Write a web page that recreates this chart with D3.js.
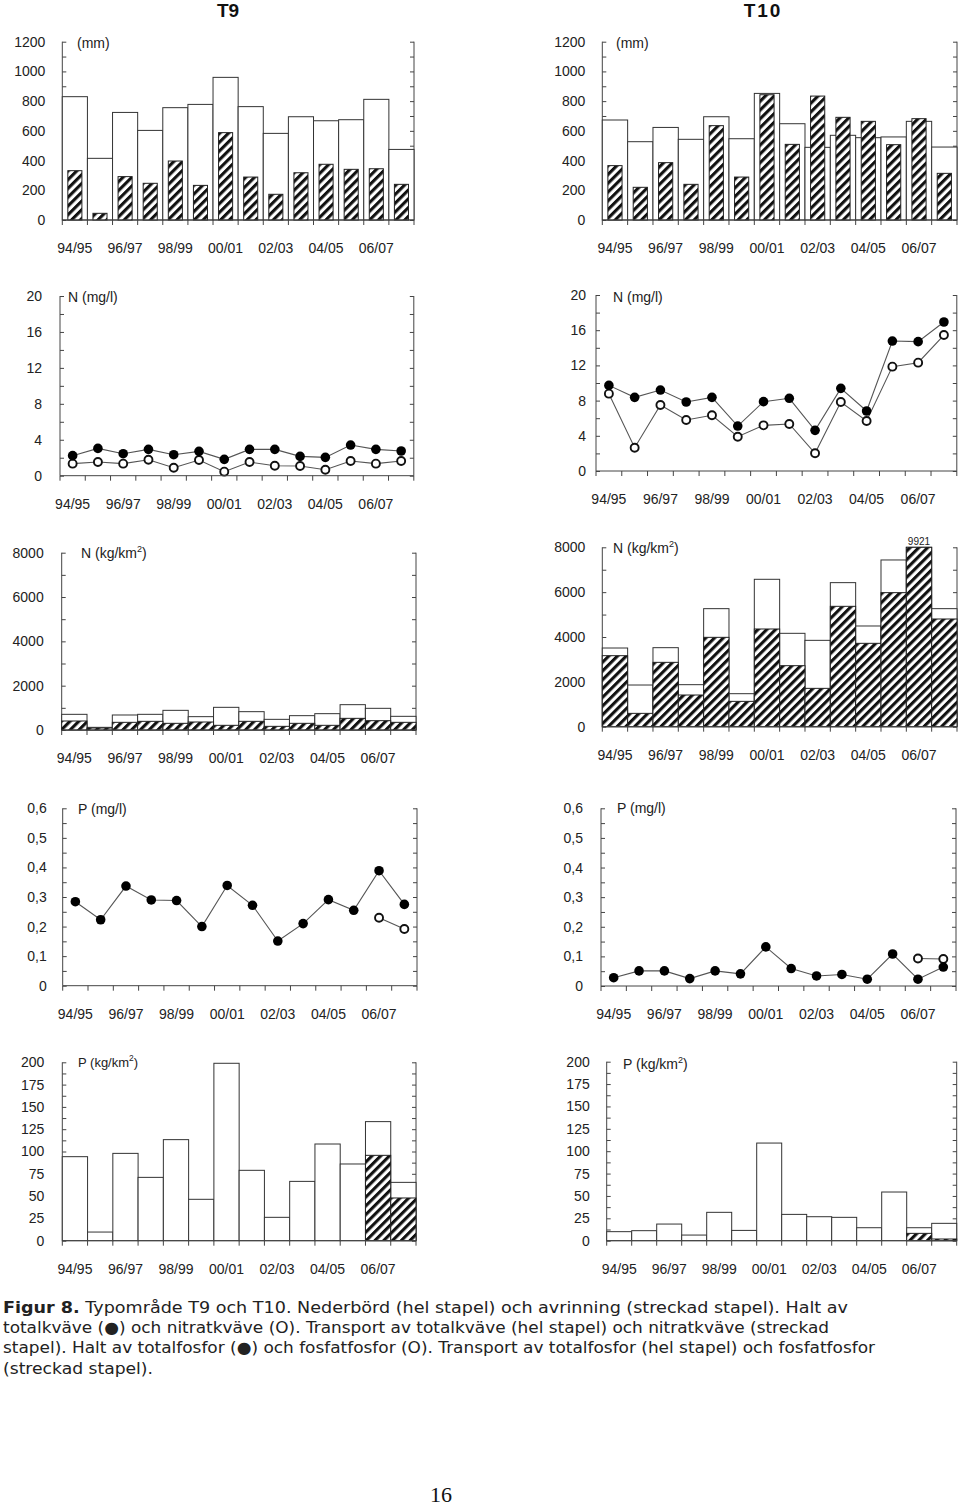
<!DOCTYPE html>
<html><head><meta charset="utf-8">
<script src="https://cdn.jsdelivr.net/npm/d3@7/dist/d3.min.js"></script>
<style>body{margin:0;background:#fff} svg{display:block}</style>
</head><body>
<svg id="c" width="960" height="1506"></svg>
<script>
// ---------- DATA ----------
const years = ["94/95","95/96","96/97","97/98","98/99","99/00","00/01","01/02","02/03","03/04","04/05","05/06","06/07","07/08"];
const xTickLabels = ["94/95","96/97","98/99","00/01","02/03","04/05","06/07"];

// T9
const t9Precip   = [830,415,724,603,756,778,960,763,583,695,668,675,812,475];
const t9Runoff   = [332,45,292,247,397,233,588,289,173,318,375,341,345,240];
const t9TotN     = [2.23,3.04,2.45,2.93,2.34,2.71,1.82,2.93,2.93,2.15,2.04,3.41,2.93,2.75];
const t9NitN     = [1.34,1.52,1.34,1.78,0.89,1.74,0.45,1.52,1.11,1.08,0.67,1.63,1.34,1.63];
const t9TotNLoad = [707,120,677,707,887,602,1023,827,481,647,737,1143,978,617];
const t9NitNLoad = [406,90,346,391,301,361,211,391,165,301,211,526,421,346];
const t9TotP     = [0.284,0.223,0.337,0.290,0.288,0.200,0.339,0.272,0.151,0.210,0.291,0.255,0.389,0.275];
const t9PO4P     = [null,null,null,null,null,null,null,null,null,null,null,null,0.230,0.192];
const t9TotPLoad = [94.2,9.7,97.9,71.0,113.3,46.4,198.9,78.9,26.2,66.5,108.4,86.0,133.5,65.4];
const t9PO4PLoad = [null,null,null,null,null,null,null,null,null,null,null,null,95.7,47.9];

// T10
const t10Precip   = [673,527,623,543,695,547,852,648,489,570,554,559,664,491];
const t10Runoff   = [366,220,386,240,635,289,843,509,834,691,664,507,682,314];
const t10TotN     = [9.73,8.37,9.20,7.84,8.37,5.11,7.88,8.26,4.62,9.39,6.82,14.77,14.70,16.93];
const t10NitN     = [8.79,2.65,7.50,5.80,6.33,3.90,5.19,5.34,2.01,7.84,5.68,11.86,12.31,15.45];
const t10TotNLoad = [3509,1859,3524,1874,5264,1472,6573,4164,3851,6424,4491,7435,9921,5264];
const t10NitNLoad = [3167,595,2870,1413,3985,1130,4357,2721,1710,5368,3718,5978,8600,4803];
const t10TotP     = [0.028,0.051,0.051,0.025,0.051,0.041,0.132,0.059,0.034,0.039,0.023,0.108,0.023,0.064];
const t10PO4P     = [null,null,null,null,null,null,null,null,null,null,null,null,0.093,0.091];
const t10TotPLoad = [10.1,11.2,18.6,6.3,31.7,11.5,109.1,29.4,26.8,26.1,14.5,54.4,14.5,19.4];
const t10PO4PLoad = [null,null,null,null,null,null,null,null,null,null,null,null,8.2,1.9];

// ---------- DRAW ----------
const svg = d3.select("#c");
const defs = svg.append("defs");
const pat = defs.append("pattern").attr("id","hatch").attr("patternUnits","userSpaceOnUse")
  .attr("width",6.2).attr("height",6.2).attr("patternTransform","rotate(45)");
pat.append("rect").attr("width",6.2).attr("height",6.2).attr("fill","#fff");
pat.append("rect").attr("width",3.1).attr("height",6.2).attr("fill","#111");

const AX = "#444", TXT = "#222", FONT = "'Liberation Sans', Arial, sans-serif";

function commaFmt(v){ return v===0 ? "0" : d3.format(".1f")(v).replace(".",","); }

function panel(o){
  const g = svg.append("g");
  const x = d3.scaleBand().domain(years).range([o.x0,o.x1]).paddingInner(0).paddingOuter(0);
  const y = d3.scaleLinear().domain([0,o.max]).range([o.yZero,o.yTop]).clamp(true);
  const majors = d3.range(0, o.max + o.major/2, o.major);
  const minors = d3.range(0, o.max + o.minor/2, o.minor);

  const left = d3.axisLeft(y).tickValues(majors).tickSize(0).tickPadding(o.gap)
      .tickFormat(o.fmt || d3.format("d"));
  const gl = g.append("g").attr("transform",`translate(${o.x0},0)`).call(left);
  gl.select(".domain").remove();
  gl.selectAll("text").attr("font-family",FONT).attr("font-size",14).attr("fill",TXT);

  const inL = d3.axisRight(y).tickValues(minors).tickSize(4).tickFormat("");
  g.append("g").attr("transform",`translate(${o.x0},0)`).call(inL)
    .call(s=>{s.selectAll("line").attr("stroke",AX); s.select(".domain").attr("stroke",AX).attr("d",`M0,${o.yZero}V${o.yTop}`);});
  const inR = d3.axisLeft(y).tickValues(minors).tickSize(4).tickFormat("");
  g.append("g").attr("transform",`translate(${o.x1},0)`).call(inR)
    .call(s=>{s.selectAll("line").attr("stroke",AX); s.select(".domain").attr("stroke",AX).attr("d",`M0,${o.yZero}V${o.yTop}`);});

  if (o.type === "precip" || o.type === "load") {
    g.append("g").selectAll("rect").data(o.a).join("rect")
      .attr("x",(d,i)=>x(years[i])).attr("width",x.bandwidth())
      .attr("y",d=>y(d)).attr("height",d=>o.yZero-y(d))
      .attr("fill","#fff").attr("stroke","#333").attr("stroke-width",1);
    const frac = o.type === "precip" ? 0.56 : 1;
    const bw = x.bandwidth()*frac, off = (x.bandwidth()-bw)/2;
    g.append("g").selectAll("rect").data(o.b.map((v,i)=>({v,i})).filter(d=>d.v!=null)).join("rect")
      .attr("x",d=>x(years[d.i])+off).attr("width",bw)
      .attr("y",d=>y(d.v)).attr("height",d=>o.yZero-y(d.v))
      .attr("fill","url(#hatch)").attr("stroke","#222").attr("stroke-width",1);
  } else {
    const cx = i => x(years[i]) + x.bandwidth()/2;
    const line = d3.line().defined(d=>d.v!=null).x(d=>cx(d.i)).y(d=>y(d.v));
    [o.a, o.b].forEach(arr=>{
      const pts = arr.map((v,i)=>({v,i}));
      g.append("path").datum(pts).attr("d",line).attr("fill","none").attr("stroke","#555").attr("stroke-width",1.1);
    });
    g.append("g").selectAll("circle").data(o.b.map((v,i)=>({v,i})).filter(d=>d.v!=null)).join("circle")
      .attr("cx",d=>cx(d.i)).attr("cy",d=>y(d.v)).attr("r",4)
      .attr("fill","#fff").attr("stroke","#111").attr("stroke-width",1.9);
    g.append("g").selectAll("circle").data(o.a.map((v,i)=>({v,i})).filter(d=>d.v!=null)).join("circle")
      .attr("cx",d=>cx(d.i)).attr("cy",d=>y(d.v)).attr("r",4.8).attr("fill","#000");
  }

  const bx = d3.axisBottom(x).tickValues([]).tickSize(0);
  const gx = g.append("g").attr("transform",`translate(0,${o.yZero})`).call(bx);
  gx.select(".domain").attr("stroke",AX).attr("d",`M${o.x0},0H${o.x1}`);
  gx.selectAll("line.bt").data(d3.range(years.length+1)).join("line").attr("class","bt")
    .attr("x1",i=>i<years.length?x(years[i]):o.x1).attr("x2",i=>i<years.length?x(years[i]):o.x1)
    .attr("y1",0).attr("y2",5).attr("stroke",AX);
  g.append("g").selectAll("text").data(xTickLabels).join("text")
    .attr("x",d=>x(d)+x.bandwidth()/2).attr("y",o.yZero+33)
    .attr("text-anchor","middle").attr("font-family",FONT).attr("font-size",14).attr("fill",TXT)
    .text(d=>d);

  const t = g.append("text").attr("x",o.tx).attr("y",o.ty+5).attr("font-family",FONT)
    .attr("font-size",o.tsize||14).attr("fill",TXT);
  t.append("tspan").text(o.title);
  if (o.sup) {
    t.append("tspan").attr("font-size",(o.tsize||14)*0.65).attr("dy",-6).text("2");
    t.append("tspan").attr("dy",6).text(")");
  }
  if (o.after) o.after(g, x, y);
}

panel({type:"precip",a:t9Precip,b:t9Runoff,x0:62.3,x1:414,yZero:220,yTop:41.7,max:1200,major:200,minor:100,gap:17,title:"(mm)",tx:77,ty:43});
panel({type:"precip",a:t10Precip,b:t10Runoff,x0:602.3,x1:957,yZero:220,yTop:41.7,max:1200,major:200,minor:100,gap:17,title:"(mm)",tx:616,ty:43});
panel({type:"line",a:t9TotN,b:t9NitN,x0:60,x1:413.8,yZero:475.7,yTop:296,max:20,major:4,minor:2,gap:18,title:"N (mg/l)",tx:68,ty:297});
panel({type:"line",a:t10TotN,b:t10NitN,x0:596,x1:956.8,yZero:471,yTop:295,max:20,major:4,minor:2,gap:10,title:"N (mg/l)",tx:613,ty:297});
panel({type:"load",a:t9TotNLoad,b:t9NitNLoad,x0:61.7,x1:416,yZero:730,yTop:552.7,max:8000,major:2000,minor:1000,gap:18,title:"N (kg/km",sup:true,tx:81,ty:553});
panel({type:"load",a:t10TotNLoad,b:t10NitNLoad,x0:602.3,x1:957,yZero:726.7,yTop:547.3,max:8000,major:2000,minor:1000,gap:17,title:"N (kg/km",sup:true,tx:613,ty:548,
  after:(g,x,y)=>{ g.append("text").attr("x",x("06/07")+x.bandwidth()/2).attr("y",545)
     .attr("text-anchor","middle").attr("font-family",FONT).attr("font-size",10).attr("fill",TXT).text(d3.max(t10TotNLoad)); }});
panel({type:"line",a:t9TotP,b:t9PO4P,x0:62.7,x1:417,yZero:985.7,yTop:808.3,max:0.6,major:0.1,minor:0.05,gap:16,fmt:commaFmt,title:"P (mg/l)",tx:78,ty:809});
panel({type:"line",a:t10TotP,b:t10PO4P,x0:601,x1:956,yZero:986,yTop:808.3,max:0.6,major:0.1,minor:0.05,gap:18,fmt:commaFmt,title:"P (mg/l)",tx:617,ty:808});
panel({type:"load",a:t9TotPLoad,b:t9PO4PLoad,x0:62.3,x1:416,yZero:1240.7,yTop:1062.3,max:200,major:25,minor:12.5,gap:18,title:"P (kg/km",sup:true,tsize:13,tx:78,ty:1062});
panel({type:"load",a:t10TotPLoad,b:t10PO4PLoad,x0:606.7,x1:956.7,yZero:1240.7,yTop:1061.7,max:200,major:25,minor:12.5,gap:17,title:"P (kg/km",sup:true,tx:623,ty:1064});

svg.append("text").attr("x",228).attr("y",17).attr("text-anchor","middle").attr("font-family",FONT)
  .attr("font-weight","bold").attr("font-size",19).attr("fill","#111").text("T9");
svg.append("text").attr("x",763).attr("y",17).attr("text-anchor","middle").attr("font-family",FONT)
  .attr("font-weight","bold").attr("font-size",19).attr("letter-spacing",2).attr("fill","#111").text("T10");

// Caption
const capLines = [
  [["Figur 8.",true],[" Typområde T9 och T10. Nederbörd (hel stapel) och avrinning (streckad stapel). Halt av",false]],
  [["totalkväve (●) och nitratkväve (O). Transport av totalkväve (hel stapel) och nitratkväve (streckad",false]],
  [["stapel). Halt av totalfosfor (●) och fosfatfosfor (O). Transport av totalfosfor (hel stapel) och fosfatfosfor",false]],
  [["(streckad stapel).",false]]
];
const capY = [1313,1333,1353,1374];
const capW = [845,826,872,150];
capLines.forEach((ln,i)=>{
  const t = svg.append("text").attr("x",3).attr("y",capY[i]).attr("font-family","'DejaVu Sans', Verdana, sans-serif")
    .attr("font-size",16).attr("fill","#222")
    .attr("textLength",capW[i]).attr("lengthAdjust","spacingAndGlyphs");
  ln.forEach(([s,b])=>t.append("tspan").attr("font-weight",b?"bold":"normal").text(s));
});

svg.append("text").attr("x",441).attr("y",1502).attr("text-anchor","middle")
  .attr("font-family","'Liberation Serif', 'DejaVu Serif', serif").attr("font-size",22).attr("fill","#111").text("16");
</script>
</body></html>
